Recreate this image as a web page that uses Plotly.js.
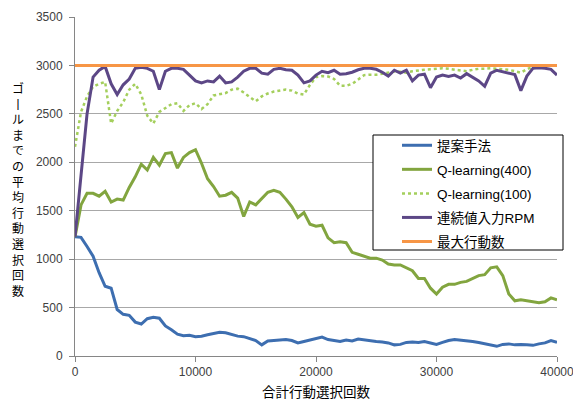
<!DOCTYPE html>
<html>
<head>
<meta charset="utf-8">
<script src="https://cdn.plot.ly/plotly-3.0.1.min.js"></script>
<style>html,body{margin:0;padding:0;background:#fff;}#chart{width:573px;height:400px;}</style>
</head>
<body>
<div id="chart"></div>
<script>
var steps = [0,500,1000,1500,2000,2500,3000,3500,4000,4500,5000,5500,6000,6500,7000,7500,8000,8500,9000,9500,
10000,10500,11000,11500,12000,12500,13000,13500,14000,14500,15000,15500,16000,16500,17000,17500,18000,18500,19000,19500,
20000,20500,21000,21500,22000,22500,23000,23500,24000,24500,25000,25500,26000,26500,27000,27500,28000,28500,29000,29500,
30000,30500,31000,31500,32000,32500,33000,33500,34000,34500,35000,35500,36000,36500,37000,37500,38000,38500,39000,39500,40000];

var proposed = [1230,1225,1130,1030,860,720,700,480,430,420,350,330,385,400,390,310,270,225,210,215,
200,205,220,230,245,240,225,205,200,180,160,115,155,160,165,170,160,135,150,165,
185,195,170,160,150,165,155,175,165,160,150,145,135,115,120,140,145,140,150,135,
120,140,160,170,165,160,150,140,125,110,100,120,125,115,120,115,110,125,135,160,140];

var q400 = [1230,1560,1680,1680,1650,1700,1590,1620,1610,1740,1850,1980,1920,2050,1970,2090,2100,1940,2050,2100,
2130,1990,1830,1750,1650,1660,1690,1630,1440,1590,1560,1630,1690,1710,1690,1620,1540,1430,1480,1360,
1340,1350,1220,1170,1180,1170,1070,1050,1030,1010,1010,990,950,940,940,910,880,800,800,700,
640,710,740,740,760,770,800,830,840,910,920,830,640,570,580,570,560,550,560,600,580];

var q100 = [2160,2520,2680,2780,2810,2830,2400,2530,2620,2750,2810,2700,2480,2400,2520,2560,2600,2610,2530,2590,
2610,2550,2600,2690,2700,2715,2750,2760,2720,2670,2630,2680,2710,2730,2740,2750,2740,2710,2700,2800,
2880,2890,2886,2860,2790,2790,2810,2860,2900,2905,2905,2915,2925,2938,2935,2925,2940,2950,2955,2960,
2965,2970,2965,2955,2945,2940,2955,2965,2965,2970,2965,2960,2955,2940,2925,2960,2990,3000,3000,3000,3000];

var rpm = [1230,1850,2500,2880,2950,2990,2810,2700,2800,2860,2970,2980,2970,2940,2750,2940,2970,2970,2960,2900,
2840,2820,2840,2830,2890,2820,2830,2880,2940,2970,2970,2920,2910,2960,2970,2955,2950,2900,2820,2840,
2900,2940,2925,2950,2910,2915,2930,2955,2970,2970,2960,2930,2890,2950,2920,2950,2840,2900,2910,2770,
2880,2900,2885,2900,2870,2915,2880,2840,2785,2920,2950,2935,2915,2905,2740,2890,2970,2975,2970,2960,2900];

var maxX = [0, 40000];
var maxActions = [3000, 3000];

var names = ['提案手法','Q-learning(400)','Q-learning(100)','連続値入力RPM','最大行動数'];
var yTitleChars = ['ゴ','丨','ル','ま','で','の','平','均','行','動','選','択','回','数'];
var xTitle = '合計行動選択回数';

var FONT = 'Liberation Sans, Arial, Noto Sans CJK JP, sans-serif';

var traces = [
  {x: steps, y: proposed, name: names[0], legendgroup: 'a', mode: 'lines', line: {color: '#3D6EB0', width: 3}},
  {x: steps, y: q400, name: names[1], legendgroup: 'b', mode: 'lines', line: {color: '#82A53F', width: 3}},
  {x: steps, y: q100, name: names[2], legendgroup: 'c', mode: 'lines', line: {color: '#A4CF5C', width: 2.5, dash: 'dot'}},
  {x: steps, y: rpm, name: names[3], legendgroup: 'd', mode: 'lines', line: {color: '#5C4786', width: 3}},
  {x: maxX, y: maxActions, name: names[4], legendgroup: 'e', mode: 'lines', line: {color: '#F79646', width: 3}}
];

var L = 75, R = 16, T = 17, B = 44;
var pw = 573 - L - R, ph = 400 - T - B;
function px2x(p){ return (p - L) / pw; }
function py2y(p){ return (400 - B - p) / ph; }

var layout = {
  width: 573, height: 400,
  margin: {l: L, r: R, t: T, b: B},
  paper_bgcolor: '#fff', plot_bgcolor: '#fff',
  font: {family: FONT, size: 12, color: '#404040'},
  showlegend: true,
  legend: {
    x: px2x(397), y: py2y(130), xanchor: 'left', yanchor: 'top',
    bgcolor: 'rgba(0,0,0,0)', borderwidth: 0,
    font: {family: FONT, size: 13.5, color: '#000'},
    tracegroupgap: 3.5
  },
  xaxis: {
    range: [0, 40000], tickvals: [0,10000,20000,30000,40000],
    ticktext: ['0','10000','20000','30000','40000'],
    ticklabeloverflow: 'allow',
    showgrid: false, zeroline: false,
    showline: true, linecolor: '#868686', linewidth: 1,
    ticks: 'outside', ticklen: 5, tickcolor: '#868686',
    tickfont: {family: FONT, size: 12, color: '#404040'},
    title: {text: xTitle, font: {family: FONT, size: 13.5, color: '#000'}, standoff: 9}
  },
  yaxis: {
    range: [0, 3500], tickvals: [0,500,1000,1500,2000,2500,3000,3500],
    showgrid: true, gridcolor: '#A8A8A8', gridwidth: 1, zeroline: false,
    showline: true, linecolor: '#868686', linewidth: 1,
    ticks: 'outside', ticklen: 5, tickcolor: '#868686', ticklabelstandoff: 4,
    tickfont: {family: FONT, size: 12, color: '#404040'}
  },
  shapes: [{
    type: 'rect', xref: 'paper', yref: 'paper', layer: 'above',
    x0: px2x(373), x1: px2x(563), y0: py2y(250), y1: py2y(135),
    fillcolor: '#ffffff', line: {color: '#000', width: 1}
  }],
  annotations: [{
    xref: 'paper', yref: 'paper', x: px2x(18), y: py2y(189),
    xanchor: 'center', yanchor: 'middle', showarrow: false,
    text: yTitleChars.join('<br>'),
    font: {family: 'Noto Sans CJK JP, sans-serif', size: 12, color: '#000'}
  }]
};

Plotly.newPlot('chart', traces, layout, {staticPlot: true, displayModeBar: false});
</script>
</body>
</html>
